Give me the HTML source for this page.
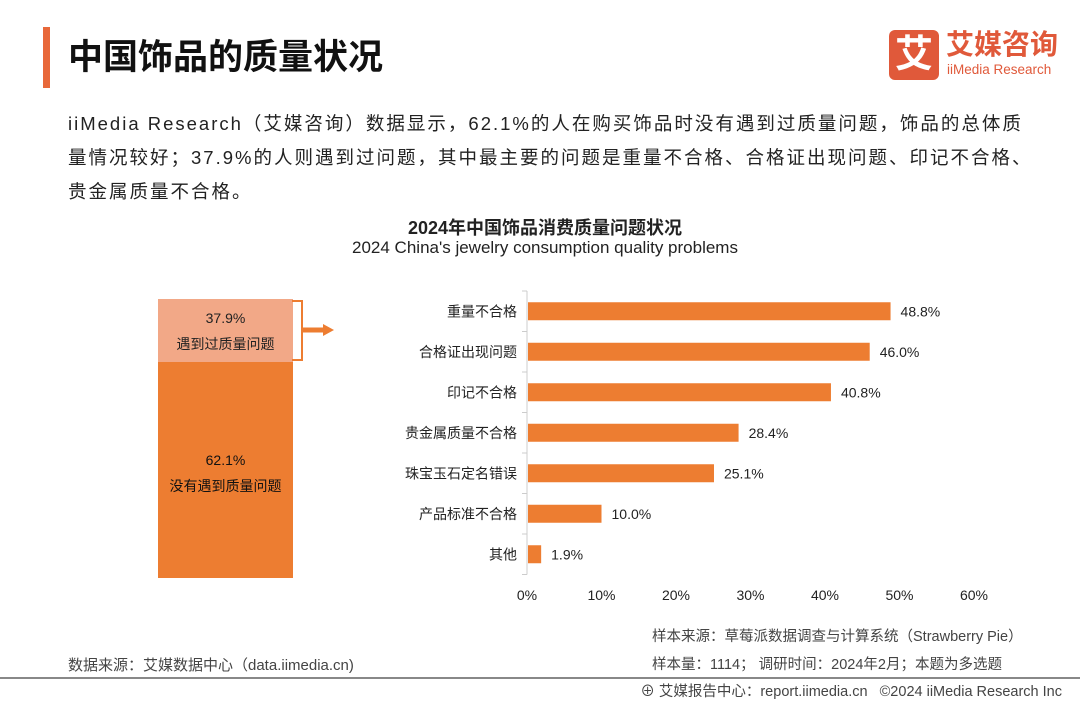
<!DOCTYPE html>
<html><head><meta charset="utf-8"><style>
body{margin:0;width:1080px;height:702px;background:#fff;font-family:"Liberation Sans","Noto Sans CJK SC",sans-serif;position:relative;overflow:hidden;color:#222}
.a{position:absolute;white-space:nowrap}
</style></head><body>
<div class="a" style="left:43px;top:27px;width:7px;height:61px;background:#e8683a"></div>
<div class="a" style="left:68px;top:29px;font-size:35px;font-weight:bold;color:#111">中国饰品的质量状况</div>
<div class="a" style="left:889px;top:30px;width:50px;height:50px;background:#e0593a;border-radius:6px;color:#fff;font-size:38px;font-weight:bold;text-align:center;line-height:50px">艾</div>
<div class="a" style="left:946px;top:29px;font-size:28px;font-weight:bold;color:#e0593a;line-height:32px">艾媒咨询</div>
<div class="a" style="left:947px;top:62px;font-size:13.5px;color:#e0593a">iiMedia Research</div>
<div class="a" style="left:68px;top:107px;font-size:18.5px;line-height:34px;color:#222;letter-spacing:2px">iiMedia Research（艾媒咨询）数据显示，62.1%的人在购买饰品时没有遇到过质量问题，饰品的总体质<br>量情况较好；37.9%的人则遇到过问题，其中最主要的问题是重量不合格、合格证出现问题、印记不合格、<br>贵金属质量不合格。</div>
<div class="a" style="left:0;width:1090px;text-align:center;top:214px;font-size:18px;font-weight:bold">2024年中国饰品消费质量问题状况</div>
<div class="a" style="left:0;width:1090px;text-align:center;top:238px;font-size:17px">2024 China's jewelry consumption quality problems</div>

<div class="a" style="left:158px;top:299px;width:135px;height:63px;background:#f2a887;text-align:center;font-size:14px;line-height:26px;padding-top:6px;box-sizing:border-box">37.9%<br>遇到过质量问题</div>
<div class="a" style="left:158px;top:362px;width:135px;height:216px;background:#ed7d31;text-align:center;font-size:14px;line-height:26px;padding-top:85px;box-sizing:border-box;color:#111">62.1%<br>没有遇到质量问题</div>
<svg class="a" style="left:0;top:0" width="1080" height="702" id="svg">
<path d="M292 301 H302 V360 H292" fill="none" stroke="#ed7d31" stroke-width="2"/>
<line x1="302" y1="330" x2="324" y2="330" stroke="#ed7d31" stroke-width="5"/>
<polygon points="323,324 334,330 323,336" fill="#ed7d31"/>
<line x1="0" y1="678" x2="1080" y2="678" stroke="#888" stroke-width="2"/>
</svg>
<div class="a" style="left:652px;top:625px;font-size:14.5px;color:#444">样本来源：草莓派数据调查与计算系统（Strawberry Pie）</div>
<div class="a" style="left:652px;top:653px;font-size:14.5px;color:#444">样本量：1114； 调研时间：2024年2月；本题为多选题</div>
<div class="a" style="left:68px;top:654px;font-size:15px;color:#444">数据来源：艾媒数据中心（data.iimedia.cn)</div>
<div class="a" style="right:18px;top:680px;font-size:14.5px;color:#444">⊕ 艾媒报告中心：report.iimedia.cn &nbsp;&nbsp;©2024 iiMedia Research Inc</div>
<script>
const categories=["重量不合格","合格证出现问题","印记不合格","贵金属质量不合格","珠宝玉石定名错误","产品标准不合格","其他"];
const values=[48.8,46.0,40.8,28.4,25.1,10.0,1.9];
const ticks=[0,10,20,30,40,50,60];
const svg=document.getElementById('svg');const NS='http://www.w3.org/2000/svg';
const x0=527,pxPer=7.45,yTop=291,step=40.5,bh=18;
const xs=v=>x0+v*pxPer;const yc=i=>yTop+step*(i+0.5);
function mk(t,a){const e=document.createElementNS(NS,t);for(const k in a)e.setAttribute(k,a[k]);svg.appendChild(e);return e;}
let ax=mk('line',{x1:x0,y1:yTop,x2:x0,y2:yTop+step*categories.length,stroke:'#ccc'});


for(let i=0;i<=categories.length;i++){const t=mk('line',{x1:x0-5,x2:x0,y1:yTop+step*i,y2:yTop+step*i,stroke:'#ccc'});

}
categories.forEach((c,i)=>{
const l=mk('text',{x:x0-10,y:yc(i)+5,'text-anchor':'end','font-size':14,fill:'#222'});l.textContent=c;


const r=mk('rect',{x:x0+1,y:yc(i)-bh/2,width:xs(values[i])-x0-1,height:bh,fill:'#ed7d31'});


const v=mk('text',{x:xs(values[i])+10,y:yc(i)+5,'font-size':14,fill:'#222'});v.textContent=values[i].toFixed(1)+'%';


});
ticks.forEach(t=>{const e=mk('text',{x:xs(t),y:600,'text-anchor':'middle','font-size':14,fill:'#222'});e.textContent=t+'%';

});
</script>
</body></html>
